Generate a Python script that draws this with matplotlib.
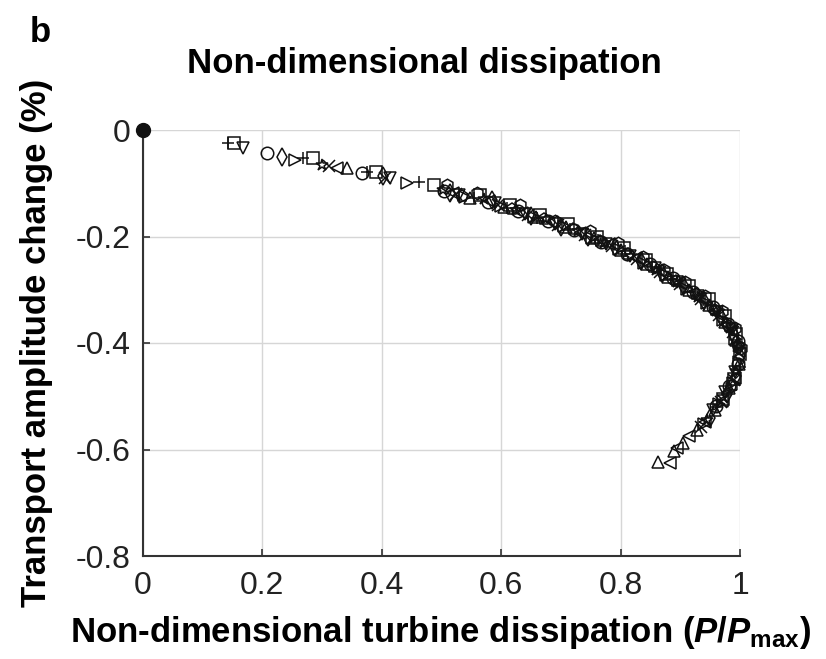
import matplotlib
matplotlib.use("Agg")
import matplotlib.pyplot as plt

plt.rcParams['font.family'] = ['Liberation Sans', 'DejaVu Sans']
plt.rcParams['mathtext.fontset'] = 'custom'
plt.rcParams['mathtext.rm'] = 'Liberation Sans:bold'
plt.rcParams['mathtext.it'] = 'Liberation Sans:italic:bold'
plt.rcParams['mathtext.bf'] = 'Liberation Sans:bold'

# ---- data ----
origin_x = [0.0]
origin_y = [0.0]

sq_x = [0.152, 0.285, 0.390, 0.487, 0.565, 0.615, 0.665, 0.712, 0.760, 0.805, 0.842, 0.878, 0.915, 0.948, 0.975, 0.993, 1.000, 0.990, 0.972]
sq_y = [-0.025, -0.053, -0.079, -0.103, -0.122, -0.141, -0.160, -0.177, -0.200, -0.222, -0.245, -0.270, -0.293, -0.318, -0.350, -0.384, -0.420, -0.468, -0.505]

tdn_x = [0.167, 0.414, 0.530, 0.590, 0.640, 0.690, 0.735, 0.775, 0.815, 0.858, 0.895, 0.930, 0.962, 0.986, 0.998, 0.992, 0.975, 0.955]
tdn_y = [-0.034, -0.090, -0.122, -0.138, -0.158, -0.176, -0.196, -0.214, -0.236, -0.260, -0.285, -0.312, -0.342, -0.375, -0.412, -0.455, -0.492, -0.526]

circ_x = [0.208, 0.366, 0.505, 0.578, 0.628, 0.678, 0.722, 0.768, 0.810, 0.850, 0.888, 0.922, 0.955, 0.980, 0.996, 0.997, 0.982, 0.960]
circ_y = [-0.043, -0.081, -0.115, -0.136, -0.152, -0.170, -0.188, -0.210, -0.232, -0.252, -0.278, -0.305, -0.333, -0.365, -0.396, -0.440, -0.480, -0.518]

dia_x = [0.233, 0.402, 0.515, 0.585, 0.650, 0.700, 0.745, 0.790, 0.835, 0.870, 0.905, 0.940, 0.968, 0.990, 1.000, 0.994, 0.978, 0.950]
dia_y = [-0.050, -0.086, -0.118, -0.132, -0.162, -0.182, -0.200, -0.220, -0.246, -0.268, -0.292, -0.322, -0.352, -0.385, -0.425, -0.462, -0.495, -0.540]

trt_x = [0.255, 0.442, 0.540, 0.600, 0.655, 0.705, 0.752, 0.798, 0.840, 0.876, 0.912, 0.945, 0.972, 0.992, 0.999, 0.988, 0.965, 0.940]
trt_y = [-0.057, -0.100, -0.125, -0.143, -0.163, -0.180, -0.202, -0.224, -0.250, -0.272, -0.298, -0.325, -0.356, -0.392, -0.435, -0.475, -0.515, -0.552]

plus_x = [0.143, 0.268, 0.376, 0.463, 0.555, 0.610, 0.660, 0.715, 0.762, 0.808, 0.852, 0.885, 0.920, 0.952, 0.978, 0.995, 1.000, 0.985, 0.962]
plus_y = [-0.025, -0.053, -0.079, -0.098, -0.128, -0.146, -0.166, -0.186, -0.206, -0.228, -0.258, -0.280, -0.304, -0.330, -0.362, -0.398, -0.445, -0.488, -0.520]

star_x = [0.300, 0.502, 0.572, 0.625, 0.675, 0.728, 0.772, 0.818, 0.860, 0.895, 0.930, 0.960, 0.984, 0.997, 0.993, 0.972, 0.945]
star_y = [-0.066, -0.113, -0.130, -0.150, -0.168, -0.190, -0.212, -0.236, -0.262, -0.286, -0.313, -0.340, -0.372, -0.408, -0.452, -0.502, -0.545]

cross_x = [0.312, 0.405, 0.525, 0.595, 0.645, 0.695, 0.740, 0.785, 0.828, 0.866, 0.900, 0.935, 0.965, 0.988, 0.999, 0.990, 0.968, 0.935]
cross_y = [-0.068, -0.090, -0.120, -0.140, -0.160, -0.178, -0.198, -0.218, -0.242, -0.266, -0.290, -0.318, -0.347, -0.380, -0.418, -0.470, -0.510, -0.558]

tlf_x = [0.325, 0.519, 0.580, 0.635, 0.685, 0.732, 0.780, 0.825, 0.862, 0.898, 0.932, 0.962, 0.985, 0.998, 0.991, 0.970, 0.942, 0.915, 0.895, 0.883]
tlf_y = [-0.071, -0.118, -0.134, -0.156, -0.172, -0.193, -0.215, -0.240, -0.262, -0.288, -0.316, -0.345, -0.378, -0.415, -0.465, -0.508, -0.548, -0.575, -0.598, -0.626]

tup_x = [0.342, 0.548, 0.605, 0.658, 0.708, 0.755, 0.800, 0.845, 0.880, 0.915, 0.948, 0.975, 0.994, 0.998, 0.982, 0.958, 0.928, 0.905, 0.890, 0.862]
tup_y = [-0.071, -0.128, -0.145, -0.163, -0.183, -0.203, -0.226, -0.252, -0.276, -0.300, -0.328, -0.360, -0.395, -0.440, -0.485, -0.525, -0.563, -0.588, -0.603, -0.624]

pent_x = [0.535, 0.618, 0.672, 0.720, 0.765, 0.812, 0.855, 0.892, 0.926, 0.958, 0.982, 0.996]
pent_y = [-0.124, -0.148, -0.168, -0.186, -0.208, -0.232, -0.258, -0.283, -0.308, -0.338, -0.368, -0.405]

hex_x = [0.510, 0.560, 0.632, 0.690, 0.748, 0.795, 0.838, 0.872, 0.908, 0.942, 0.970, 0.992, 1.002, 0.985]
hex_y = [-0.104, -0.118, -0.140, -0.170, -0.190, -0.212, -0.238, -0.262, -0.285, -0.312, -0.340, -0.372, -0.410, -0.480]

x_ticks = [0, 0.2, 0.4, 0.6, 0.8, 1.0]
x_ticklabels = ['0', '0.2', '0.4', '0.6', '0.8', '1']
y_ticks = [0, -0.2, -0.4, -0.6, -0.8]
y_ticklabels = ['0', '-0.2', '-0.4', '-0.6', '-0.8']

series = [
    (sq_x, sq_y, 's'),
    (tdn_x, tdn_y, 'v'),
    (circ_x, circ_y, 'o'),
    (dia_x, dia_y, 'd'),
    (trt_x, trt_y, '>'),
    (plus_x, plus_y, '+'),
    (star_x, star_y, '*'),
    (cross_x, cross_y, 'x'),
    (tlf_x, tlf_y, '<'),
    (tup_x, tup_y, '^'),
    (pent_x, pent_y, 'p'),
    (hex_x, hex_y, 'h'),
]

W, H = 826, 659
fig = plt.figure(figsize=(W / 100, H / 100), dpi=100)
ax = fig.add_axes([143 / W, 1 - 556 / H, (740 - 143) / W, (556 - 130) / H])

for xs, ys, m in series:
    ax.plot(xs, ys, linestyle='none', marker=m, markersize=9,
            markerfacecolor='none', markeredgecolor='#111111', markeredgewidth=1.1,
            clip_on=False)

ax.plot(origin_x, origin_y, linestyle='none', marker='o', markersize=10,
        color='#111111', clip_on=False, zorder=5)

ax.set_xlim(0, 1)
ax.set_ylim(-0.8, 0)
ax.set_xticks(x_ticks)
ax.set_xticklabels(x_ticklabels)
ax.set_yticks(y_ticks)
ax.set_yticklabels(y_ticklabels)
ax.grid(True, color='#d6d6d6', linewidth=1.0)
ax.set_axisbelow(True)
for s in ['top', 'right']:
    ax.spines[s].set_visible(False)
for s in ['left', 'bottom']:
    ax.spines[s].set_color('#333333')
    ax.spines[s].set_linewidth(1.5)
ax.tick_params(direction='in', length=5, width=1.2, color='#333333',
               labelsize=23, labelcolor='#222222')
ax.tick_params(axis='x', pad=11)
ax.tick_params(axis='y', pad=9)

fig.text(441 / W, 1 - 642 / H,
         r'Non-dimensional turbine dissipation ($P$/$P_{\mathrm{max}}$)',
         fontsize=25, fontweight='bold', ha='center', va='baseline')
fig.text(37 / W, 1 - 343 / H, 'Transport amplitude change (%)', fontsize=25,
         fontweight='bold', rotation=90, ha='center', va='center')
fig.text(424 / W, 1 - 73 / H, 'Non-dimensional dissipation', fontsize=25,
         fontweight='bold', ha='center', va='baseline')
fig.text(40 / W, 1 - 42 / H, 'b', fontsize=25, fontweight='bold',
         ha='center', va='baseline')

fig.savefig('out.png', dpi=100)
